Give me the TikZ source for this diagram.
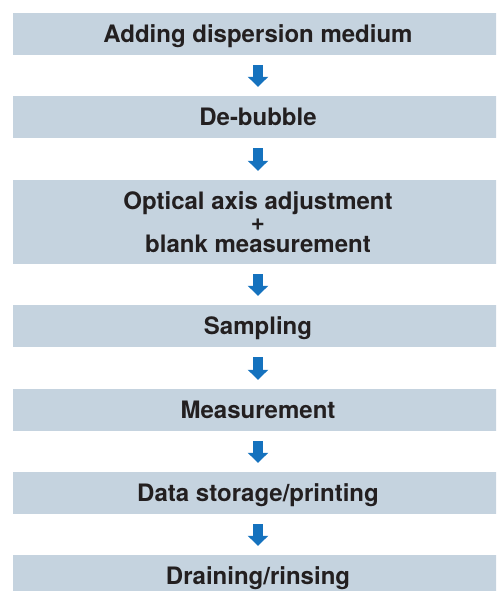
\documentclass[tikz,border=0pt]{standalone}
\usepackage{fontspec}
\setmainfont{TeX Gyre Heros}
\usetikzlibrary{arrows.meta}
\definecolor{boxfill}{RGB}{197,211,223}
\definecolor{arrowblue}{RGB}{21,114,190}
\definecolor{textdark}{RGB}{35,31,32}
\begin{document}
\begin{tikzpicture}[x=1pt,y=-1pt,
  stepbox/.style={fill=boxfill, draw=none, minimum width=490pt, minimum height=42pt,
    inner sep=0pt, align=center, text=textdark,
    font=\fontsize{24}{21.5}\selectfont\bfseries},
  oneline/.style={stepbox, text height=17pt, text depth=0pt},
  flow/.style={draw=arrowblue, line width=10pt, line cap=butt,
    -{Triangle[width=20pt,length=10pt]}, shorten <=10pt, shorten >=9pt}]
\useasboundingbox (0,0) rectangle (496,591);
\clip (0,0) rectangle (496,591);
\node[oneline] (s1) at (258,34) {Adding dispersion medium};
\node[oneline] (s2) at (258,117) {De-bubble};
\node[stepbox, minimum height=84pt] (s3) at (258,222) {Optical axis adjustment\\+\\blank measurement};
\node[oneline] (s4) at (258,326) {Sampling};
\node[oneline] (s5) at (258,410) {Measurement};
\node[oneline] (s6) at (258,493) {Data storage/printing};
\node[oneline] (s7) at (258,576) {Draining/rinsing};
\foreach \a/\b in {s1/s2,s2/s3,s3/s4,s4/s5,s5/s6,s6/s7}
  \draw[flow] (\a.south) -- (\b.north);
\end{tikzpicture}
\end{document}
